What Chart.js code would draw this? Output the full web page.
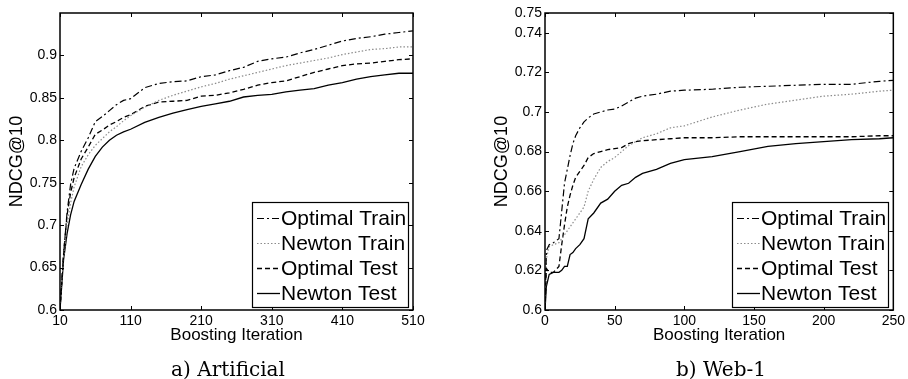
<!DOCTYPE html>
<html>
<head>
<meta charset="utf-8">
<script src="https://cdn.jsdelivr.net/npm/chart.js@4.4.0/dist/chart.umd.min.js"></script>
<style>
  body { margin: 0; background: #fff; width: 908px; height: 379px; overflow: hidden; position: relative; }
  canvas { position: absolute; top: 0; }
  .caption { position: absolute; top: 358px; width: 200px; text-align: center; font: 20px "DejaVu Serif", serif; line-height: 22px; color: #000; }
</style>
</head>
<body>
<canvas id="chart-artificial" width="454" height="379" style="left:0"></canvas>
<canvas id="chart-web" width="454" height="379" style="left:454px"></canvas>
<div class="caption" style="left:128px">a) Artificial</div>
<div class="caption" style="left:621px">b) Web-1</div>
<script>
// ---- a) Artificial ----
const artIter = [10, 15, 20, 25, 30, 40, 50, 60, 70, 80, 90, 100, 110, 130, 150, 170, 190, 210, 230, 250, 270, 290, 310, 330, 350, 370, 390, 410, 430, 450, 470, 490, 510];
const artOptimalTrain = [0.600, 0.665, 0.715, 0.748, 0.767, 0.787, 0.803, 0.822, 0.828, 0.835, 0.842, 0.847, 0.849, 0.862, 0.867, 0.869, 0.870, 0.875, 0.877, 0.882, 0.886, 0.893, 0.896, 0.898, 0.903, 0.907, 0.912, 0.917, 0.920, 0.922, 0.925, 0.927, 0.929];
const artNewtonTrain  = [0.600, 0.660, 0.700, 0.726, 0.745, 0.769, 0.783, 0.794, 0.802, 0.810, 0.816, 0.823, 0.829, 0.839, 0.847, 0.853, 0.858, 0.863, 0.867, 0.872, 0.876, 0.880, 0.884, 0.888, 0.891, 0.894, 0.897, 0.901, 0.904, 0.907, 0.908, 0.910, 0.910];
const artOptimalTest  = [0.600, 0.665, 0.712, 0.738, 0.756, 0.778, 0.792, 0.807, 0.812, 0.818, 0.822, 0.827, 0.830, 0.840, 0.845, 0.846, 0.847, 0.852, 0.853, 0.856, 0.860, 0.865, 0.868, 0.870, 0.875, 0.880, 0.884, 0.888, 0.890, 0.891, 0.893, 0.895, 0.896];
const artNewtonTest   = [0.600, 0.659, 0.690, 0.712, 0.728, 0.748, 0.766, 0.781, 0.792, 0.800, 0.806, 0.810, 0.813, 0.821, 0.827, 0.832, 0.836, 0.840, 0.843, 0.846, 0.851, 0.853, 0.854, 0.857, 0.859, 0.861, 0.865, 0.868, 0.872, 0.875, 0.877, 0.879, 0.879];
const artXTicks = [10, 110, 210, 310, 410, 510];
const artYTicks = [0.6, 0.65, 0.7, 0.75, 0.8, 0.85, 0.9];

// ---- b) Web-1 ----
const webIter = [0, 1, 3, 6, 10, 12, 14, 16, 18, 20, 22, 25, 28, 31, 35, 40, 45, 50, 55, 60, 65, 70, 80, 90, 100, 120, 140, 160, 180, 200, 220, 240, 250];
const webOptimalTrain = [0.600, 0.630, 0.633, 0.634, 0.636, 0.650, 0.664, 0.671, 0.678, 0.684, 0.688, 0.692, 0.695, 0.697, 0.699, 0.700, 0.701, 0.7015, 0.703, 0.705, 0.707, 0.708, 0.709, 0.7105, 0.711, 0.7115, 0.7125, 0.713, 0.7135, 0.714, 0.714, 0.7155, 0.716];
const webNewtonTrain  = [0.600, 0.626, 0.632, 0.633, 0.634, 0.636, 0.638, 0.640, 0.642, 0.644, 0.646, 0.649, 0.652, 0.660, 0.666, 0.672, 0.675, 0.677, 0.680, 0.683, 0.685, 0.687, 0.689, 0.692, 0.693, 0.6975, 0.701, 0.704, 0.706, 0.708, 0.709, 0.7105, 0.711];
const webOptimalTest  = [0.600, 0.621, 0.619, 0.619, 0.622, 0.633, 0.643, 0.652, 0.658, 0.663, 0.667, 0.670, 0.673, 0.677, 0.679, 0.680, 0.681, 0.6815, 0.682, 0.684, 0.685, 0.6855, 0.686, 0.6865, 0.687, 0.687, 0.6875, 0.6875, 0.6875, 0.6875, 0.6875, 0.688, 0.688];
const webNewtonTest   = [0.600, 0.612, 0.618, 0.619, 0.619, 0.620, 0.622, 0.622, 0.628, 0.629, 0.631, 0.633, 0.636, 0.646, 0.649, 0.654, 0.656, 0.660, 0.663, 0.664, 0.667, 0.669, 0.671, 0.674, 0.676, 0.6775, 0.680, 0.6826, 0.684, 0.685, 0.686, 0.6865, 0.687];
const webXTicks = [0, 50, 100, 150, 200, 250];
const webYTicks = [0.6, 0.62, 0.64, 0.66, 0.68, 0.7, 0.72, 0.74, 0.75];

const seriesNames = ['Optimal Train', 'Newton Train', 'Optimal Test', 'Newton Test'];

// estilos das linhas (estilo MATLAB)
const lineStyles = [
  { borderColor: '#000', borderDash: [7, 3, 2, 3], borderWidth: 1.2 },
  { borderColor: '#8c8c8c', borderDash: [1.5, 2], borderWidth: 1.2 },
  { borderColor: '#000', borderDash: [5, 3], borderWidth: 1.3 },
  { borderColor: '#000', borderDash: [], borderWidth: 1.3 }
];

const sansFont = '"Liberation Sans", Arial, Helvetica, sans-serif';

// moldura, ticks internos e legenda
const matlabFrame = {
  id: 'matlabFrame',
  afterDraw(chart) {
    const { ctx, chartArea: a, scales: { x, y } } = chart;
    ctx.save();
    ctx.strokeStyle = '#000';
    ctx.lineWidth = 1;
    ctx.setLineDash([]);
    ctx.beginPath();
    x.ticks.forEach(t => {
      const px = Math.round(x.getPixelForValue(t.value)) + 0.5;
      ctx.moveTo(px, a.bottom); ctx.lineTo(px, a.bottom - 4);
      ctx.moveTo(px, a.top); ctx.lineTo(px, a.top + 4);
    });
    y.ticks.forEach(t => {
      const py = Math.round(y.getPixelForValue(t.value)) + 0.5;
      ctx.moveTo(a.left, py); ctx.lineTo(a.left + 4, py);
      ctx.moveTo(a.right, py); ctx.lineTo(a.right - 4, py);
    });
    ctx.stroke();
    ctx.lineWidth = 1.5;
    ctx.strokeRect(a.left, a.top, a.right - a.left, a.bottom - a.top);

    // legenda
    const w = 156, h = 105;
    const bx = Math.round(a.right - 5 - w), by = Math.round(a.bottom - 3 - h);
    ctx.fillStyle = '#fff';
    ctx.fillRect(bx, by, w, h);
    ctx.lineWidth = 1.2;
    ctx.strokeRect(bx + 0.5, by + 0.5, w, h);
    ctx.font = '21px ' + sansFont;
    ctx.textBaseline = 'middle';
    chart.data.datasets.forEach((ds, i) => {
      const ry = by + 16 + i * 25;
      ctx.strokeStyle = ds.borderColor;
      ctx.lineWidth = ds.borderWidth;
      ctx.setLineDash(ds.borderDash);
      ctx.beginPath();
      ctx.moveTo(bx + 5, ry + 0.5);
      ctx.lineTo(bx + 28, ry + 0.5);
      ctx.stroke();
      ctx.fillStyle = '#000';
      ctx.fillText(ds.label, bx + 29, ry + 1);
    });
    ctx.restore();
  }
};

function criarGrafico(id, iters, valores, xMin, xMax, xTicks, yMin, yMax, yTicks, padLeft, padRight) {
  const datasets = valores.map((vals, i) => Object.assign({
    label: seriesNames[i],
    data: iters.map((it, k) => ({ x: it, y: vals[k] })),
    pointRadius: 0,
    fill: false,
    tension: 0
  }, lineStyles[i]));

  return new Chart(document.getElementById(id), {
    type: 'line',
    data: { datasets: datasets },
    options: {
      responsive: false,
      animation: false,
      devicePixelRatio: 1,
      layout: { padding: { left: padLeft, right: padRight, top: 13, bottom: 24 } },
      plugins: { legend: { display: false }, tooltip: { enabled: false } },
      scales: {
        x: {
          type: 'linear',
          min: xMin,
          max: xMax,
          afterBuildTicks: s => { s.ticks = xTicks.map(v => ({ value: v })); },
          afterFit: s => { s.height = 45; },
          grid: { display: false, drawTicks: false },
          border: { display: false },
          ticks: { color: '#000', padding: 3, maxRotation: 0, font: { family: sansFont, size: 14 }, callback: v => String(v) },
          title: { display: true, text: 'Boosting Iteration', color: '#000', font: { family: sansFont, size: 17 }, padding: { top: 0, bottom: 9 } }
        },
        y: {
          type: 'linear',
          min: yMin,
          max: yMax,
          afterBuildTicks: s => { s.ticks = yTicks.map(v => ({ value: v })); },
          afterFit: s => { s.width = 60; },
          grid: { display: false, drawTicks: false },
          border: { display: false },
          ticks: { color: '#000', padding: 3, font: { family: sansFont, size: 14 }, callback: v => String(Math.round(v * 100) / 100) },
          title: { display: true, text: 'NDCG@10', color: '#000', font: { family: sansFont, size: 18 }, padding: { top: 6, bottom: 0 } }
        }
      }
    },
    plugins: [matlabFrame]
  });
}

criarGrafico('chart-artificial', artIter,
  [artOptimalTrain, artNewtonTrain, artOptimalTest, artNewtonTest],
  10, 510, artXTicks, 0.6, 0.95, artYTicks, 0, 41);

criarGrafico('chart-web', webIter,
  [webOptimalTrain, webNewtonTrain, webOptimalTest, webNewtonTest],
  0, 250, webXTicks, 0.6, 0.75, webYTicks, 31, 12);
</script>
</body>
</html>
